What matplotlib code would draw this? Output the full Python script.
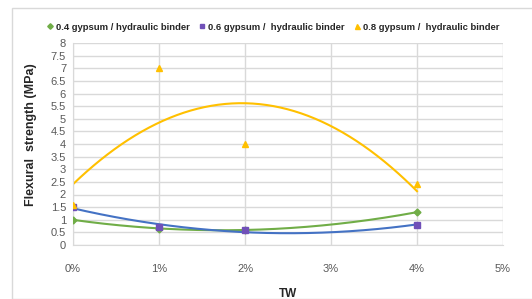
import numpy as np
import matplotlib
matplotlib.use("Agg")
import matplotlib.pyplot as plt
from matplotlib.patches import Rectangle

plt.rcParams['font.family'] = ['Liberation Sans', 'DejaVu Sans']

tw = [0, 1, 2, 4]
s04 = [1.0, 0.65, 0.6, 1.3]
s06 = [1.5, 0.7, 0.6, 0.8]
s08 = [1.6, 7.0, 4.0, 2.4]
labels = ['0.4 gypsum / hydraulic binder', '0.6 gypsum /  hydraulic binder', '0.8 gypsum /  hydraulic binder']
xticklabels = ['0%', '1%', '2%', '3%', '4%', '5%']

fig = plt.figure(figsize=(5.32, 2.99), dpi=100)
fig.patches.append(Rectangle((12/532, 0.0), 1.0, 1 - 8/299, transform=fig.transFigure,
                             fill=False, edgecolor='#d9d9d9', linewidth=1))
ax = fig.add_axes([73/532, 1 - 245/299, (503-73)/532, (245-43)/299])

series = [
    (s04, '#70AD47', '#70AD47', 'D', 3.5),
    (s06, '#4472C4', '#7050B8', 's', 4),
    (s08, '#FFC000', '#FFC000', '^', 4.5),
]
xs = np.linspace(0, 4, 200)
handles = []
for (vals, lc, mc, mk, ms), lab in zip(series, labels):
    coef = np.polyfit(tw, vals, 2)
    ax.plot(xs, np.polyval(coef, xs), color=lc, lw=1.5, zorder=2)
    h, = ax.plot(tw, vals, linestyle='none', marker=mk, color=mc, markersize=ms, zorder=3, label=lab)
    handles.append(h)

ax.set_xlim(0, 5)
ax.set_ylim(0, 8)
ax.set_xticks(range(6))
ax.set_xticklabels(xticklabels)
ax.set_yticks(np.arange(0, 8.01, 0.5))
ax.set_yticklabels([('%g' % v) for v in np.arange(0, 8.01, 0.5)])
ax.grid(True, color='#d9d9d9', lw=1)
ax.set_axisbelow(True)
for sp in ['top', 'right']:
    ax.spines[sp].set_visible(False)
ax.spines['left'].set_color('#d9d9d9')
ax.spines['bottom'].set_color('#d9d9d9')
ax.tick_params(length=0, labelsize=8, colors='#595959')
ax.tick_params(axis='x', pad=14)
ax.tick_params(axis='y', pad=5)
ax.set_xlabel('TW', fontsize=8.5, fontweight='bold', color='#262626', labelpad=10)
ax.set_ylabel('Flexural  strength (MPa)', fontsize=9, fontweight='bold', color='#262626')
ax.yaxis.set_label_coords(-0.083, 0.545)

leg = fig.legend(handles=handles, loc='center', bbox_to_anchor=(0.512, 1 - 27/299), ncol=3,
                 frameon=False, prop={'size': 6.8, 'weight': 'bold'}, handletextpad=0.1,
                 columnspacing=0.8, handlelength=1.0, markerscale=0.8)
for t in leg.get_texts():
    t.set_color('#262626')

fig.savefig('out.png', dpi=100)
